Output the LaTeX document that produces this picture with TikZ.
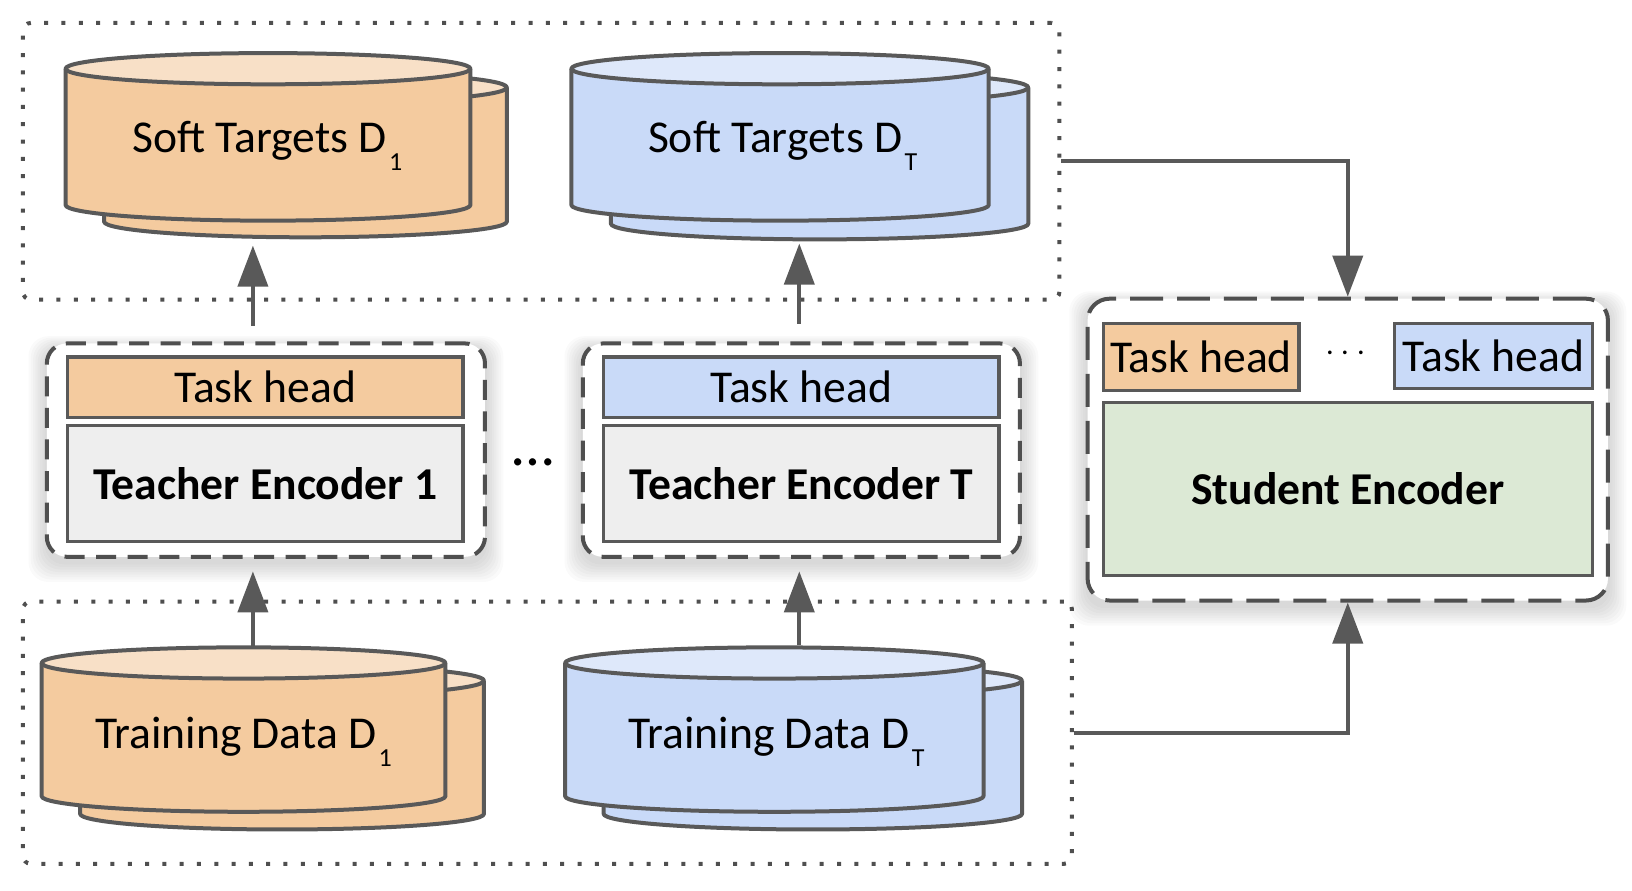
\documentclass[tikz,border=0pt]{standalone}
\usepackage{fontspec}
\setmainfont{Carlito}
\usetikzlibrary{arrows.meta,fit}
\definecolor{lnc}{HTML}{595959}
\definecolor{boxc}{HTML}{4F4F4F}
\definecolor{orb}{HTML}{F4CB9F}
\definecolor{ort}{HTML}{F8E0C7}
\definecolor{blb}{HTML}{C9DAF8}
\definecolor{blt}{HTML}{DEE8FA}
\definecolor{grc}{HTML}{EEEEEE}
\definecolor{gnc}{HTML}{DCE9D5}
\newcommand\bigtxt{\fontsize{22.8}{27}\selectfont}
\newcommand\subx[1]{\kern1.2pt\raisebox{-9pt}{\fontsize{13}{14}\selectfont #1}}
\newcommand\dbcyl[7]{%
  \pgfmathsetmacro\cylcx{(#1+#2)/2}%
  \pgfmathsetmacro\cylrx{(#2-#1)/2}%
  \fill[#6] (#1,#3) -- (#1,#4) arc[start angle=180,end angle=0,x radius=\cylrx,y radius=#5] -- (#2,#3) -- cycle;
  \draw[cylline] (#1,#3) -- (#1,#4) arc[start angle=180,end angle=0,x radius=\cylrx,y radius=#5] -- (#2,#3);
  \filldraw[cylline,fill=#7] (\cylcx,#3) ellipse[x radius=\cylrx,y radius=#5];
}
\newcommand\glow[4]{%
  \foreach \gi in {1,...,8}{
    \fill[black,opacity=0.02,rounded corners=10pt] (#1-\gi*2.2,#2-\gi*1.5+5) rectangle (#3+\gi*2.2,#4+\gi*2.4+5);
  }
}
\tikzset{
  cylline/.style={draw=lnc,line width=2pt,line join=round},
  dotbox/.style={draw=boxc,line width=2pt,dash pattern=on 2pt off 6.65pt,rounded corners=4pt,inner sep=0pt},
  tbox/.style={draw=boxc,fill=white,line width=2pt,dash pattern=on 10pt off 5.8pt,rounded corners=10pt,inner sep=0pt},
  sbox/.style={draw=boxc,fill=white,line width=2pt,dash pattern=on 16.5pt off 7pt,rounded corners=11pt,inner sep=0pt},
  inbox/.style={draw=lnc,line width=1.7pt,inner sep=0pt,font=\bigtxt},
  arr/.style={draw=lnc,line width=2pt,-{Triangle[length=20.5pt,width=15pt]}},
  lbl/.style={font=\bigtxt,inner sep=0pt}
}
\begin{document}
\begin{tikzpicture}[x=0.52041pt,y=-0.52041pt]
\useasboundingbox (0,0) rectangle (1568.1,855.2);
% outer dotted groups
\node[dotbox,fit={(22,22) (1018,288)}] (topdot) {};
\node[dotbox,fit={(22,578) (1030,830)}] (botdot) {};
% soft targets cylinders
\dbcyl{100}{487}{84}{213}{15}{orb}{ort}
\dbcyl{63}{452}{66}{197}{15}{orb}{ort}
\dbcyl{587}{988}{84}{215}{15}{blb}{blt}
\dbcyl{549}{950}{66}{197}{15}{blb}{blt}
\node[lbl,anchor=base] (sd1) at (257,147) {Soft Targets D\subx{1}};
\node[lbl,anchor=base] (sdT) at (752,147) {Soft Targets D\subx{T}};
% training data cylinders
\dbcyl{77}{465}{654}{782}{15}{orb}{ort}
\dbcyl{40}{428}{637}{765}{15}{orb}{ort}
\dbcyl{580}{982}{654}{782}{15}{blb}{blt}
\dbcyl{543}{945}{637}{765}{15}{blb}{blt}
\node[lbl,anchor=base] (td1) at (234,719) {Training Data D\subx{1}};
\node[lbl,anchor=base] (tdT) at (746,719) {Training Data D\subx{T}};
% shadows
\glow{45}{330}{466}{535}
\glow{560}{330}{980}{535}
\glow{1045}{287}{1545}{577}
% teacher 1
\node[tbox,fit={(45,330) (466,535)}] (t1) {};
\node[inbox,fill=orb,fit={(65,343) (445,401)}] (th1) {};
\node[lbl] at (th1.center) {Task head};
\node[inbox,fill=grc,fit={(65,409) (445,520)}] (te1) {};
\node[lbl] at (te1.center) {\bfseries Teacher Encoder 1};
% teacher T
\node[tbox,fit={(560,330) (980,535)}] (tT) {};
\node[inbox,fill=blb,fit={(580,343) (960,401)}] (thT) {};
\node[lbl] at (thT.center) {Task head};
\node[inbox,fill=grc,fit={(580,409) (960,520)}] (teT) {};
\node[lbl] at (teT.center) {\bfseries Teacher Encoder T};
\node[inner sep=0pt] (tdots) at (512,444) {\fontsize{30}{30}\selectfont …};
% student
\node[sbox,fit={(1045,287) (1545,577)}] (stu) {};
\node[inbox,fill=orb,fit={(1060,311) (1248,375)}] (sh1) {};
\node[lbl] at (sh1.center) {Task head};
\node[inbox,fill=blb,fit={(1340,311) (1530,373)}] (shT) {};
\node[lbl] at (shT.center) {Task head};
\node[inner sep=0pt] (sdots) at (1293,340) {\fontsize{17}{17}\selectfont$\cdots$};
\node[inbox,fill=gnc,fit={(1060,387) (1530,553)}] (se) {};
\node[lbl] at (se.center) {\bfseries Student Encoder};
% connector coordinates
\coordinate (t1top) at (243,313);
\coordinate (sd1bot) at (243,236);
\coordinate (tTtop) at (768,311);
\coordinate (sdTbot) at (768,234);
\coordinate (td1top) at (243,622);
\coordinate (t1bot) at (243,549);
\coordinate (tdTtop) at (768,620);
\coordinate (tTbot) at (768,549);
% connectors
\draw[arr] (topdot.east) -| (stu.north);
\draw[arr] (botdot.east) -| (stu.south);
\draw[arr] (t1top) -- (sd1bot);
\draw[arr] (tTtop) -- (sdTbot);
\draw[arr] (td1top) -- (t1bot);
\draw[arr] (tdTtop) -- (tTbot);
\end{tikzpicture}
\end{document}
